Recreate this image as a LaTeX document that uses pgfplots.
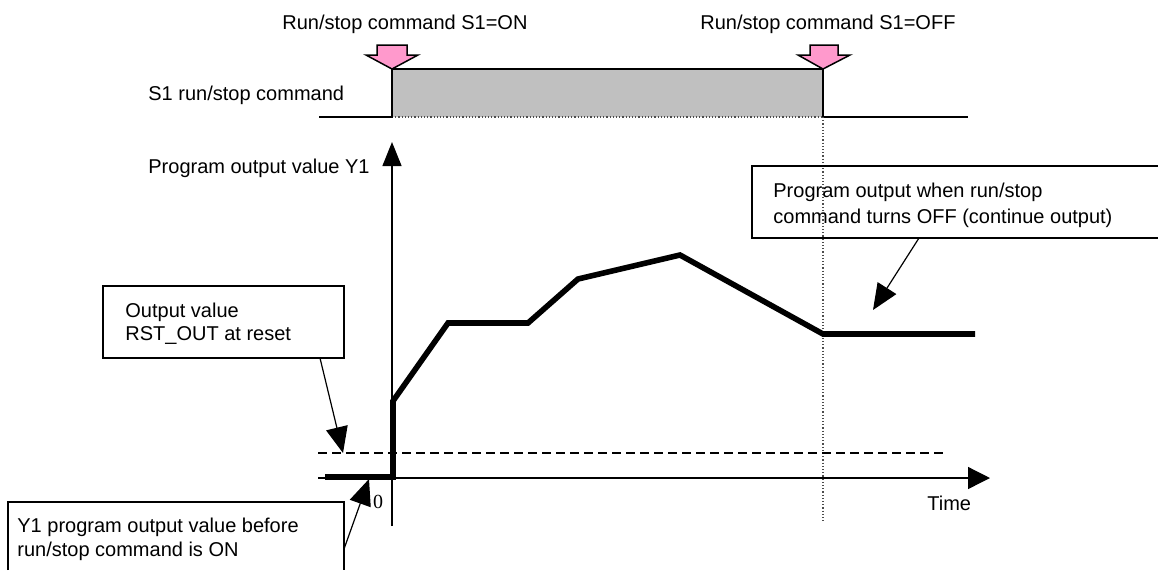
\documentclass[border=0pt]{standalone}
\usepackage{pgfplots}
\pgfplotsset{compat=1.18}
\usepackage{fontspec}
\setmainfont{Liberation Sans}
\newfontfamily\serifnum{Liberation Serif}
\usetikzlibrary{arrows.meta}
\definecolor{pinkarrow}{HTML}{FF99CC}
\definecolor{sgray}{HTML}{C0C0C0}
\begin{document}
\begin{tikzpicture}[font=\fontsize{10}{12}\selectfont]
\begin{axis}[width=579pt,height=285pt,scale only axis,
  xmin=0,xmax=1158,ymin=0,ymax=570,y dir=reverse,
  axis lines=none,clip=false]
% S1 run/stop signal
\addplot[fill=sgray,draw=none] coordinates {(392,69)(823,69)(823,117)(392,117)} --cycle;
\addplot[black!70,line width=0.6pt,densely dotted] coordinates {(392,117)(823,117)};
\addplot[black,line width=0.8pt] coordinates {(319,117)(392,117)(392,69)(823,69)(823,117)(968,117)};
% vertical dotted line at OFF
\addplot[black!70,line width=0.6pt,densely dotted] coordinates {(823,117)(823,522)};
% pink arrows
\addplot[fill=pinkarrow,draw=black,line width=0.75pt] coordinates {(377,45)(407,45)(407,55)(418,55)(392,69)(366,55)(377,55)} --cycle;
\addplot[fill=pinkarrow,draw=black,line width=0.75pt] coordinates {(810,45)(838,45)(838,55)(850,55)(823,69)(798,55)(810,55)} --cycle;
% axes
\addplot[black,line width=0.65pt,-{Triangle[length=11pt,width=11pt]}] coordinates {(318,478)(990,478)};
\addplot[black,line width=0.65pt,-{Triangle[length=12pt,width=9.5pt]}] coordinates {(392,526)(392,142)};
% RST_OUT dashed level
\addplot[black,line width=0.65pt,dash pattern=on 4.5pt off 2.5pt] coordinates {(318,453)(945,453)};
% program output Y1
\addplot[black,line width=2.8pt] coordinates {(325,477)(393,477)(393,401)(448,323)(528,323)(578,279)(680,255)(823,334)(975,334)};
% texts
\node[anchor=base west,inner sep=0] at (axis cs:282,29) {Run/stop command S1=ON};
\node[anchor=base west,inner sep=0] at (axis cs:700,29) {Run/stop command S1=OFF};
\node[anchor=base west,inner sep=0] at (axis cs:148,100) {S1 run/stop command};
\node[anchor=base west,inner sep=0] at (axis cs:148,173) {Program output value Y1};
\node[anchor=base west,inner sep=0] at (axis cs:927,510) {Time};
\node[inner sep=0,font=\serifnum\fontsize{10}{12}\selectfont] at (axis cs:378,502) {0};
% RST box
\draw[black,line width=0.75pt] (axis cs:103,286) rectangle (axis cs:344,358);
\node[anchor=base west,inner sep=0] at (axis cs:125,317) {Output value};
\node[anchor=base west,inner sep=0] at (axis cs:125,340) {RST\_OUT at reset};
\draw[black,line width=0.6pt,-{Triangle[length=13pt,width=11pt]}] (axis cs:320,358) -- (axis cs:343,453);
% top-right box
\draw[black,line width=0.75pt] (axis cs:1158,166) -- (axis cs:752,166) -- (axis cs:752,238) -- (axis cs:1158,238);
\node[anchor=base west,inner sep=0] at (axis cs:773,197) {Program output when run/stop};
\node[anchor=base west,inner sep=0] at (axis cs:773,223) {command turns OFF (continue output)};
\draw[black,line width=0.6pt,-{Triangle[length=13pt,width=11pt]}] (axis cs:919,238) -- (axis cs:873,310);
% bottom-left box
\draw[black,line width=0.75pt] (axis cs:8,570) -- (axis cs:8,502) -- (axis cs:344,502) -- (axis cs:344,570);
\node[anchor=base west,inner sep=0] at (axis cs:17,532) {Y1 program output value before};
\node[anchor=base west,inner sep=0] at (axis cs:17,556) {run/stop command is ON};
\draw[black,line width=0.6pt,-{Triangle[length=13pt,width=11pt]}] (axis cs:344,549) -- (axis cs:369,479);
\end{axis}
\pgfresetboundingbox
\path[use as bounding box] (current axis.south west) rectangle (current axis.north east);
\end{tikzpicture}
\end{document}
